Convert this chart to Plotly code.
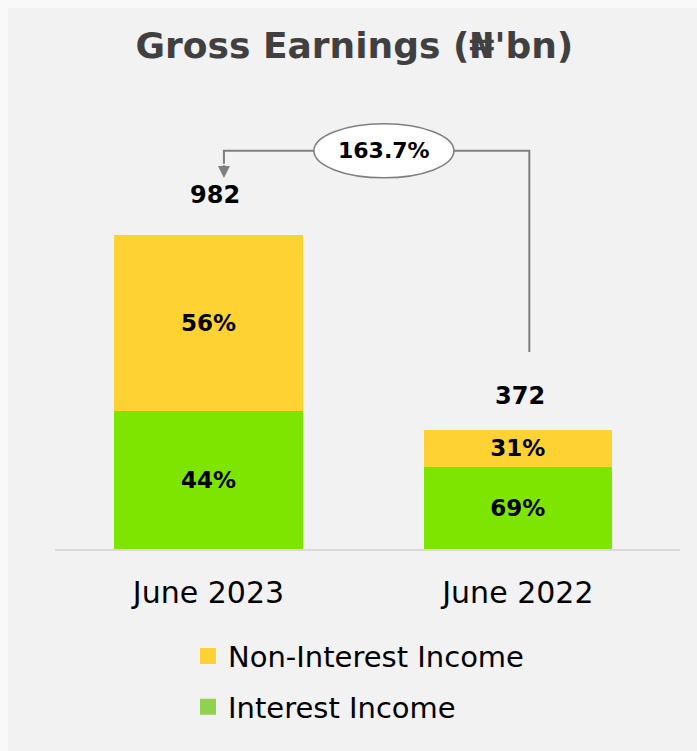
import plotly.graph_objects as go

# Gross earnings by period (N'bn) and income mix
periods = ["June 2023", "June 2022"]
totals = [982, 372]
interest_share = [44, 69]
non_interest_share = [56, 31]
growth_label = "163.7%"

interest = [t * p / 100 for t, p in zip(totals, interest_share)]
non_interest = [t - i for t, i in zip(totals, interest)]

GREEN = "#7EE500"
YELLOW = "#FFD233"
LEGEND_GREEN = "#92D050"
FONT = "DejaVu Sans, Noto Sans, sans-serif"
BOLD_FONT = dict(family=FONT, size=23, color="#000000", weight="bold")

fig = go.Figure()

fig.add_trace(go.Bar(
    x=periods, y=interest, marker=dict(color=GREEN, line=dict(width=0)),
    text=[f"{p}%" for p in interest_share], textposition="inside",
    insidetextanchor="middle", textfont=BOLD_FONT, width=0.61,
    showlegend=False, hoverinfo="skip",
))
fig.add_trace(go.Bar(
    x=periods, y=non_interest, marker=dict(color=YELLOW, line=dict(width=0)),
    text=[f"{p}%" for p in non_interest_share], textposition="inside",
    insidetextanchor="middle", textfont=BOLD_FONT, width=0.61,
    showlegend=False, hoverinfo="skip",
))

# legend entries
fig.add_trace(go.Scatter(
    x=[None], y=[None], mode="markers", name="Non-Interest Income",
    marker=dict(symbol="square", size=18, color=YELLOW), legendgroup="a",
))
fig.add_trace(go.Scatter(
    x=[None], y=[None], mode="markers", name="Interest Income",
    marker=dict(symbol="square", size=18, color=LEGEND_GREEN), legendgroup="b",
))

# total labels above the bars
for i, t in enumerate(totals):
    fig.add_annotation(
        x=i, y=t, text=str(t), showarrow=False, yanchor="bottom",
        yshift=24 if i == 0 else 18, xshift=7 if i == 0 else 2,
        font=dict(family=FONT, size=24, color="#000000", weight="bold"),
    )

# growth connector from June 2022 back to June 2023
y_line = 1245
y_start = totals[1] + 244
x_right = 1.037
x_left = 0.05
x_mid = 0.567
fig.add_shape(
    type="path", xref="x", yref="y",
    path=f"M {x_right},{y_start} L {x_right},{y_line} L {x_left},{y_line} L {x_left},{y_line - 40}",
    line=dict(color="#7F7F7F", width=2),
)
fig.add_annotation(
    x=x_left, y=y_line - 85, ax=x_left, ay=y_line - 40,
    xref="x", yref="y", axref="x", ayref="y",
    showarrow=True, arrowhead=2, arrowsize=1.2, arrowwidth=2,
    arrowcolor="#7F7F7F", text="",
)
fig.add_shape(
    type="circle", xref="x", yref="y", xsizemode="pixel", ysizemode="pixel",
    xanchor=x_mid, yanchor=y_line, x0=-70, x1=70, y0=-27, y1=27,
    fillcolor="#FFFFFF", line=dict(color="#7F7F7F", width=1.5),
)
fig.add_annotation(
    x=x_mid, y=y_line, text=growth_label, showarrow=False,
    font=dict(family=FONT, size=22, color="#000000", weight="bold"),
)

# light dotted-look frame on the top and left edges
fig.add_shape(type="rect", xref="paper", yref="paper", x0=-0.09, x1=1.03,
              y0=1.205, y1=1.23, fillcolor="#F9F9F9", line_width=0, layer="below")
fig.add_shape(type="rect", xref="paper", yref="paper", x0=-0.09, x1=-0.0752,
              y0=-0.5, y1=1.23, fillcolor="#F9F9F9", line_width=0, layer="below")

fig.update_layout(
    width=697, height=751,
    margin=dict(l=55, r=17, t=100, b=202),
    paper_bgcolor="#F2F2F2", plot_bgcolor="#F2F2F2",
    barmode="stack",
    title=dict(
        text="Gross Earnings (₦'bn)", x=0.479, xref="paper", xanchor="center",
        y=1 - 45 / 751, yref="container", yanchor="middle",
        font=dict(family=FONT, size=36, color="#404040", weight="bold"),
    ),
    xaxis=dict(
        range=[-0.496, 1.524], showgrid=False, zeroline=False,
        showline=True, linecolor="#D9D9D9", linewidth=2,
        ticks="", ticklabelstandoff=16,
        tickfont=dict(family=FONT, size=30, color="#000000"),
    ),
    yaxis=dict(range=[0, 1404], visible=False),
    legend=dict(
        orientation="v", x=(188 - 55) / 625, xanchor="left",
        y=-0.182, yanchor="top", tracegroupgap=10,
        font=dict(family=FONT, size=29, color="#000000"),
        bgcolor="rgba(0,0,0,0)",
    ),
)

fig.write_html("out.html")
